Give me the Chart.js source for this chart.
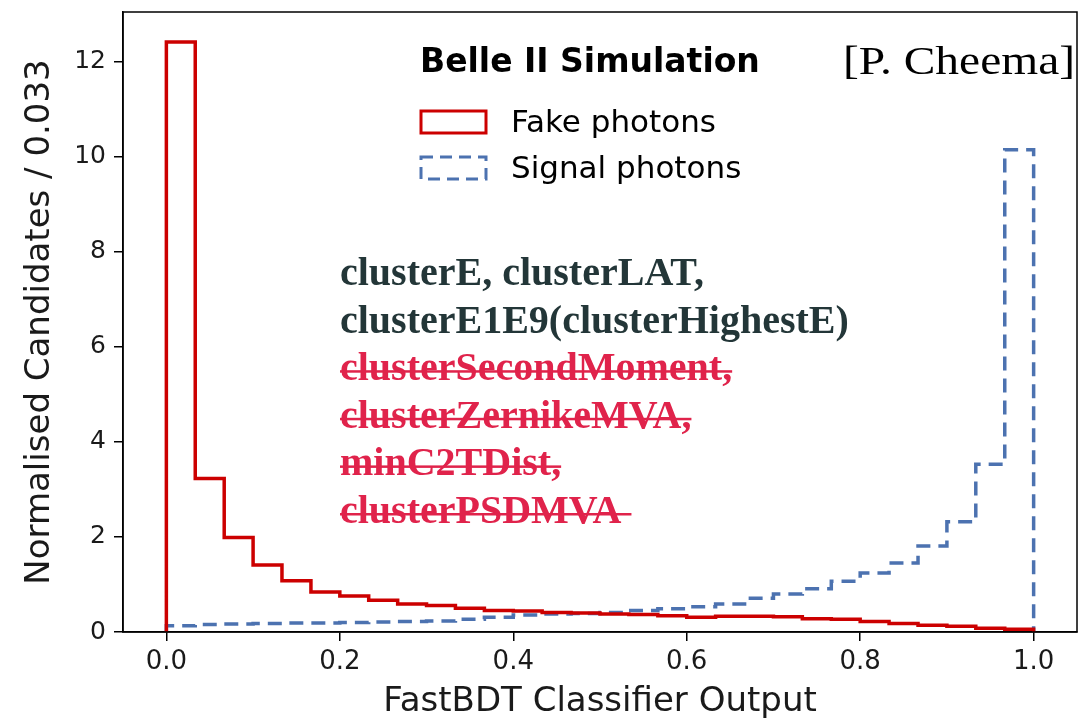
<!DOCTYPE html>
<html>
<head>
<meta charset="utf-8">
<script src="https://cdn.jsdelivr.net/npm/chart.js@4.4.1/dist/chart.umd.min.js"></script>
<style>
  html, body { margin: 0; padding: 0; background: #ffffff; }
  #wrap { width: 1078px; height: 723px; position: relative; }
</style>
</head>
<body>
<div id="wrap"><canvas id="fbdt-chart" width="1078" height="723"></canvas></div>
<script>
// ---------------------------------------------------------
// DATA (30 bins of width 1/30)
// ---------------------------------------------------------
const binEdges = [
  0.0000, 0.0333, 0.0667, 0.1000, 0.1333, 0.1667, 0.2000, 0.2333, 0.2667, 0.3000,
  0.3333, 0.3667, 0.4000, 0.4333, 0.4667, 0.5000, 0.5333, 0.5667, 0.6000, 0.6333,
  0.6667, 0.7000, 0.7333, 0.7667, 0.8000, 0.8333, 0.8667, 0.9000, 0.9333, 0.9667,
  1.0000
];

const fakePhotons = [
  12.42, 3.23, 1.99, 1.41, 1.08, 0.84, 0.76, 0.67, 0.59, 0.56,
  0.50, 0.45, 0.44, 0.41, 0.40, 0.38, 0.37, 0.34, 0.31, 0.33,
  0.33, 0.32, 0.28, 0.27, 0.22, 0.18, 0.14, 0.12, 0.08, 0.06
];

const signalPhotons = [
  0.13, 0.16, 0.17, 0.18, 0.19, 0.19, 0.20, 0.21, 0.22, 0.23,
  0.27, 0.31, 0.36, 0.38, 0.39, 0.41, 0.45, 0.49, 0.53, 0.59,
  0.71, 0.80, 0.91, 1.07, 1.24, 1.45, 1.81, 2.32, 3.53, 10.15
];

const xTickValues = [0.0, 0.2, 0.4, 0.6, 0.8, 1.0];
const yTickValues = [0, 2, 4, 6, 8, 10, 12];

const legendLabels = ["Fake photons", "Signal photons"];
const featureLines = [
  "clusterE, clusterLAT,",
  "clusterE1E9(clusterHighestE)",
  "clusterSecondMoment,",
  "clusterZernikeMVA,",
  "minC2TDist,",
  "clusterPSDMVA "
];
const struckOut = [false, false, true, true, true, true];

const RED = "#cc0000";
const BLUE = "#4c72b0";
const SANS = "'DejaVu Sans', sans-serif";
const SERIF = "'Liberation Serif', 'DejaVu Serif', serif";

// ---------------------------------------------------------
// HELPER: turn bin edges + bin heights into an outline
// (like matplotlib's histtype="step")
// ---------------------------------------------------------
function stepOutline(edges, heights) {
  const points = [{ x: edges[0], y: 0 }];
  heights.forEach((h, i) => {
    points.push({ x: edges[i], y: h });
  });
  points.push({ x: edges[edges.length - 1], y: heights[heights.length - 1] });
  points.push({ x: edges[edges.length - 1], y: 0 });
  return points;
}

// ---------------------------------------------------------
// PLUGIN: frame, legend and the text blocks on the plot
// ---------------------------------------------------------
const decorations = {
  id: "decorations",
  afterDraw(chart) {
    const ctx = chart.ctx;
    const area = chart.chartArea;
    ctx.save();

    // full frame round the plot area
    ctx.strokeStyle = "#000000";
    ctx.lineWidth = 1.5;
    ctx.strokeRect(area.left, area.top, area.right - area.left, area.bottom - area.top);

    // experiment label
    ctx.fillStyle = "#000000";
    ctx.textBaseline = "alphabetic";
    ctx.font = "bold 33px " + SANS;
    ctx.fillText("Belle II Simulation", 420, 72);

    // author tag, the source font is wider than Liberation Serif
    ctx.font = "40px " + SERIF;
    const tag = "[P. Cheema]";
    const tagWidth = ctx.measureText(tag).width;
    ctx.save();
    ctx.translate(843, 74);
    ctx.scale(232 / tagWidth, 1);
    ctx.fillText(tag, 0, 0);
    ctx.restore();

    // legend
    const boxes = [
      { y: 111, color: RED, dash: [] },
      { y: 157, color: BLUE, dash: [12, 7] }
    ];
    boxes.forEach((b, i) => {
      ctx.setLineDash(b.dash);
      ctx.strokeStyle = b.color;
      ctx.lineWidth = 3;
      ctx.strokeRect(421, b.y, 65, 22);
      ctx.setLineDash([]);
      ctx.fillStyle = "#000000";
      ctx.font = "31px " + SANS;
      ctx.fillText(legendLabels[i], 511, b.y + 21);
    });

    // input features (dropped ones struck out)
    ctx.font = "bold 40px " + SERIF;
    featureLines.forEach((line, i) => {
      const y = 285 + i * 47.6;
      ctx.fillStyle = struckOut[i] ? "#e0234b" : "#233638";
      ctx.fillText(line, 340, y);
      if (struckOut[i]) {
        const w = ctx.measureText(line).width;
        ctx.fillRect(340, y - 10, w, 2.5);
      }
    });

    ctx.restore();
  }
};

// ---------------------------------------------------------
// CHART
// ---------------------------------------------------------
const chartCanvas = document.getElementById("fbdt-chart");

new Chart(chartCanvas, {
  type: "line",
  data: {
    datasets: [
      {
        label: legendLabels[0],
        data: stepOutline(binEdges, fakePhotons),
        stepped: "before",
        borderColor: RED,
        borderWidth: 3.5,
        pointRadius: 0,
        fill: false
      },
      {
        label: legendLabels[1],
        data: stepOutline(binEdges, signalPhotons),
        stepped: "before",
        borderColor: BLUE,
        borderWidth: 3.5,
        borderDash: [14, 8],
        pointRadius: 0,
        fill: false
      }
    ]
  },
  options: {
    responsive: false,
    animation: false,
    layout: { padding: { left: 0, right: 1, top: 12, bottom: 0 } },
    plugins: {
      legend: { display: false },
      tooltip: { enabled: false }
    },
    scales: {
      x: {
        type: "linear",
        min: -0.05,
        max: 1.05,
        afterBuildTicks(scale) {
          scale.ticks = xTickValues.map((v) => ({ value: v }));
        },
        afterFit(scale) {
          scale.height = 91;
          scale.paddingLeft = 0;
          scale.paddingRight = 0;
        },
        grid: {
          display: true,
          drawOnChartArea: false,
          drawTicks: true,
          tickLength: 9,
          color: "#000000",
          lineWidth: 1.5
        },
        border: { display: true, color: "#000000", width: 1.5 },
        ticks: {
          padding: 6,
          color: "#1a1a1a",
          font: { family: SANS, size: 26 },
          callback: (v) => v.toFixed(1)
        },
        title: {
          display: true,
          text: "FastBDT Classifier Output",
          color: "#1a1a1a",
          font: { family: SANS, size: 34 },
          padding: { top: 0, bottom: 0 }
        }
      },
      y: {
        type: "linear",
        min: 0,
        max: 13.05,
        afterBuildTicks(scale) {
          scale.ticks = yTickValues.map((v) => ({ value: v }));
        },
        afterFit(scale) {
          scale.width = 123;
          scale.paddingTop = 0;
          scale.paddingBottom = 0;
        },
        grid: {
          display: true,
          drawOnChartArea: false,
          drawTicks: true,
          tickLength: 9,
          color: "#000000",
          lineWidth: 1.5
        },
        border: { display: true, color: "#000000", width: 1.5 },
        ticks: {
          padding: 8,
          color: "#1a1a1a",
          font: { family: SANS, size: 25 },
          callback: (v) => String(v)
        },
        title: {
          display: true,
          text: "Normalised Candidates / 0.033",
          color: "#1a1a1a",
          font: { family: SANS, size: 34 },
          padding: { top: 20, bottom: 0 }
        }
      }
    }
  },
  plugins: [decorations]
});
</script>
</body>
</html>
